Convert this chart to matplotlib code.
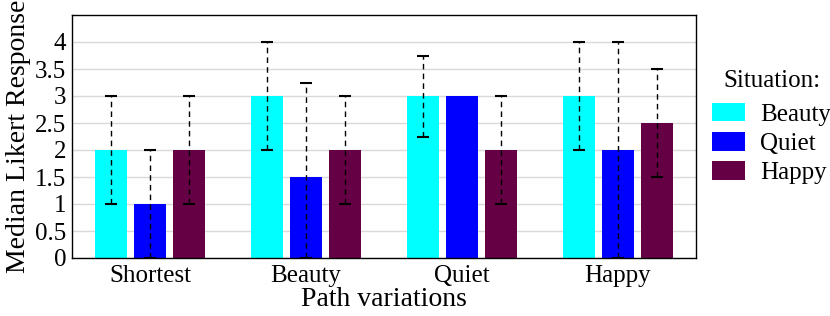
import matplotlib
matplotlib.use("Agg")
import matplotlib.pyplot as plt
import numpy as np

categories = ["Shortest", "Beauty", "Quiet", "Happy"]
series = ["Beauty", "Quiet", "Happy"]
medians = {
    "Beauty": [2, 3, 3, 3],
    "Quiet": [1, 1.5, 3, 2],
    "Happy": [2, 2, 2, 2.5],
}
lower = {
    "Beauty": [1, 2, 2.25, 2],
    "Quiet": [0, 0, 3, 0],
    "Happy": [1, 1, 1, 1.5],
}
upper = {
    "Beauty": [3, 4, 3.75, 4],
    "Quiet": [2, 3.25, 3, 4],
    "Happy": [3, 3, 3, 3.5],
}
colors = {"Beauty": "#00FFFF", "Quiet": "#0000FF", "Happy": "#660044"}

plt.rcParams['font.family'] = ['Liberation Serif', 'DejaVu Serif']

fig = plt.figure(figsize=(8.3, 3.16), dpi=100)
ax = fig.add_axes([72/830, 1-258/316, (696-72)/830, (258-15)/316])

x = np.arange(len(categories))
width = 0.21
offsets = [-0.25, 0, 0.25]
for s, off in zip(series, offsets):
    xs = x + off
    m = np.array(medians[s], dtype=float)
    ax.bar(xs, m, width, color=colors[s], label=s, zorder=2)
    lo = m - np.array(lower[s])
    hi = np.array(upper[s]) - m
    mask = (lo > 0) | (hi > 0)
    eb = ax.errorbar(xs[mask], m[mask], yerr=[lo[mask], hi[mask]], fmt='none',
                     ecolor='black', elinewidth=1, capsize=4.2, capthick=1.5, zorder=3)
    eb[2][0].set_linestyle((0, (4, 3)))

ax.set_xlim(-0.5, 3.5)
ax.set_ylim(0, 4.5)
ax.set_yticks(np.arange(0, 4.01, 0.5))
ax.set_yticklabels(["0", "0.5", "1", "1.5", "2", "2.5", "3", "3.5", "4"])
ax.set_xticks(x)
ax.set_xticklabels(categories)
ax.tick_params(axis='y', length=0, labelsize=18, pad=4)
ax.tick_params(axis='x', length=0, labelsize=18, pad=5)
ax.yaxis.grid(True, color='#d9d9d9', linewidth=1, zorder=0)
ax.set_axisbelow(True)
for sp in ax.spines.values():
    sp.set_linewidth(1)
ax.set_xlabel("Path variations", fontsize=20, labelpad=0)
ax.set_ylabel("Median Likert Response", fontsize=20, labelpad=3)

leg = fig.legend(*ax.get_legend_handles_labels(), title="Situation:", loc='upper left',
                 bbox_to_anchor=(712/830, 1-70/316),
                 frameon=False, fontsize=18, title_fontsize=18,
                 handlelength=1.32, handleheight=0.75, handletextpad=0.6, labelspacing=0.25,
                 borderpad=0, borderaxespad=0)
leg._legend_box.sep = 8

fig.savefig("out.png", dpi=100)
